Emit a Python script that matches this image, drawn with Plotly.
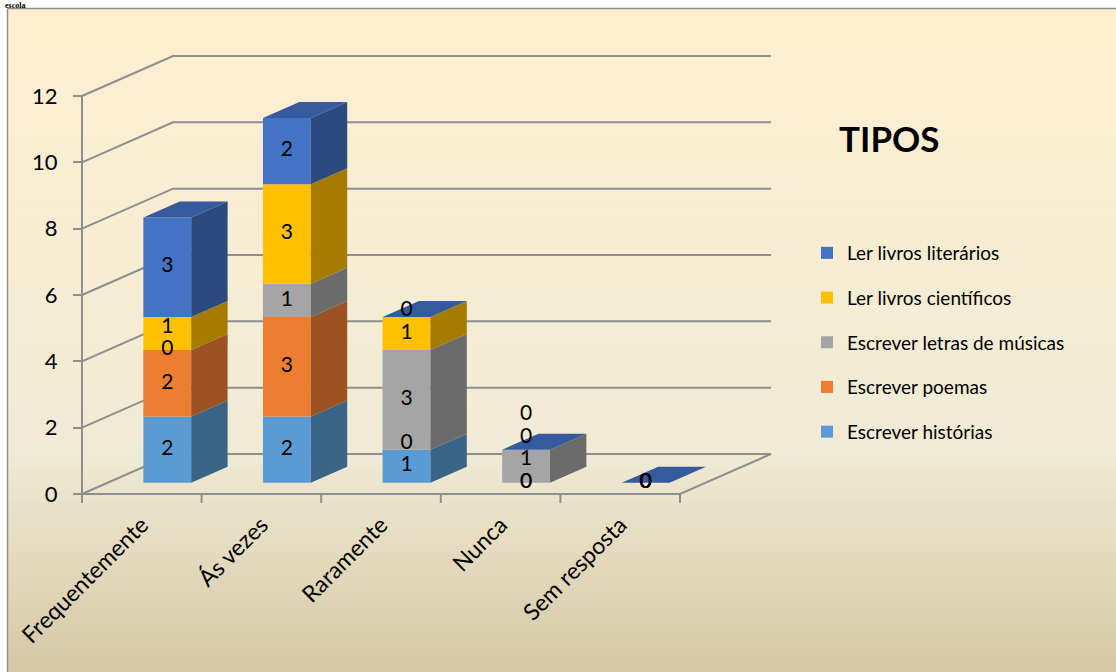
import plotly.graph_objects as go

# ---- data -------------------------------------------------------------
categories = ["Frequentemente", "Ás vezes", "Raramente", "Nunca", "Sem resposta"]
series_names = [
    "Escrever histórias",
    "Escrever poemas",
    "Escrever letras de músicas",
    "Ler livros científicos",
    "Ler livros literários",
]
escrever_historias = [2, 2, 1, 0, 0]
escrever_poemas = [2, 3, 0, 0, 0]
escrever_letras = [0, 1, 3, 1, 0]
ler_cientificos = [1, 3, 1, 0, 0]
ler_literarios = [3, 2, 0, 0, 0]
y_ticks = [0, 2, 4, 6, 8, 10, 12]
legend_title = "TIPOS"

series_values = [escrever_historias, escrever_poemas, escrever_letras,
                 ler_cientificos, ler_literarios]

# ---- style ------------------------------------------------------------
front_colors = ["#5B9BD5", "#ED7D31", "#A5A5A5", "#FFC000", "#4472C4"]
side_colors = ["#3A6589", "#9C5223", "#6B6B6B", "#A67C00", "#2C4A7E"]
top_color = "#355A9E"
grid_color = "#8E8E8E"
FONT = "Lato"

W_FIG, H_FIG = 1116, 672
M_L, M_R, M_T, M_B = 60, 316, 40, 166
PX_X = 119.6      # pixels per category
PX_Y = 33.17      # pixels per value unit
X0_PX = 82        # front-left corner of the floor
Y0_PX = 494       # front baseline

plot_w = W_FIG - M_L - M_R
plot_h = H_FIG - M_T - M_B
x_min = -0.5 - (X0_PX - M_L) / PX_X
x_max = x_min + plot_w / PX_X
y_min = -((H_FIG - M_B) - Y0_PX) / PX_Y
y_max = y_min + plot_h / PX_Y

# oblique projection of the depth axis
WALL_DX = 91 / PX_X
WALL_DY = 40 / PX_Y
F0, F1 = 0.28, 0.68          # bar depth span (fraction of floor depth)
BAR_W = 0.40
off_x, off_y = F0 * WALL_DX, F0 * WALL_DY
dep_x, dep_y = (F1 - F0) * WALL_DX, (F1 - F0) * WALL_DY
n_cat = len(categories)
x_right = n_cat - 0.5


def px_to_paper(px, py):
    return (px - M_L) / plot_w, ((H_FIG - M_B) - py) / plot_h


fig = go.Figure()
shapes = []

# ---- background gradient (chart area) ---------------------------------
def lerp(c1, c2, t):
    a = [int(c1[i:i + 2], 16) for i in (1, 3, 5)]
    b = [int(c2[i:i + 2], 16) for i in (1, 3, 5)]
    return "#%02X%02X%02X" % tuple(round(a[k] + (b[k] - a[k]) * t) for k in range(3))


stops = [(0.0, "#FFEFD1"), (0.64, "#F0EBD5"), (1.0, "#D1C39F")]
top_px, bot_px, n_strips = 8.5, 700, 90
for s in range(n_strips):
    t = (s + 0.5) / n_strips
    for (p0, c0), (p1, c1) in zip(stops[:-1], stops[1:]):
        if p0 <= t <= p1:
            col = lerp(c0, c1, (t - p0) / (p1 - p0))
            break
    ya = top_px + (bot_px - top_px) * s / n_strips
    yb = top_px + (bot_px - top_px) * (s + 1) / n_strips + 0.6
    xa, ya_p = px_to_paper(7.5, ya)
    xb, yb_p = px_to_paper(W_FIG + 2, yb)
    shapes.append(dict(type="rect", xref="paper", yref="paper", layer="below",
                       x0=xa, x1=xb, y0=yb_p, y1=ya_p,
                       fillcolor=col, line=dict(width=0)))

# chart border (left and top edges)
bx, by = px_to_paper(7.5, 8.5)
_, by_bottom = px_to_paper(7.5, H_FIG + 2)
bx_right, _ = px_to_paper(W_FIG + 2, 8.5)
shapes.append(dict(type="line", xref="paper", yref="paper", layer="below",
                   x0=bx, x1=bx, y0=by_bottom, y1=by,
                   line=dict(color="#8F8F8F", width=1.5)))
shapes.append(dict(type="line", xref="paper", yref="paper", layer="below",
                   x0=bx, x1=bx_right, y0=by, y1=by,
                   line=dict(color="#8F8F8F", width=1.5)))

# ---- walls, floor and gridlines ---------------------------------------
for v in y_ticks:
    shapes.append(dict(type="path", layer="below", xref="x", yref="y",
                       path=f"M{-0.5},{v} L{-0.5 + WALL_DX},{v + WALL_DY} "
                            f"L{x_right + WALL_DX},{v + WALL_DY}",
                       line=dict(color=grid_color, width=2)))
# floor front edge and right edge
shapes.append(dict(type="path", layer="below", xref="x", yref="y",
                   path=f"M{-0.5},0 L{x_right},0 L{x_right + WALL_DX},{WALL_DY}",
                   line=dict(color=grid_color, width=2)))
# front vertical axis line
shapes.append(dict(type="line", layer="below", xref="x", yref="y",
                   x0=-0.5, x1=-0.5, y0=0, y1=max(y_ticks),
                   line=dict(color=grid_color, width=2)))
# category boundary ticks
for k in range(n_cat + 1):
    b = k - 0.5
    shapes.append(dict(type="line", layer="below", xref="x", yref="y",
                       x0=b, x1=b, y0=0, y1=-9 / PX_Y,
                       line=dict(color=grid_color, width=2)))

# ---- bars: front faces (bars) + side faces + top faces -----------------
totals = [sum(s[i] for s in series_values) for i in range(n_cat)]
cum = [0.0] * n_cat
bases_per_series = []
n_series = len(series_values)
for si, vals in enumerate(series_values):
    bases = list(cum)
    bases_per_series.append(bases)
    fig.add_trace(go.Bar(
        x=[i + off_x for i in range(n_cat)],
        y=vals,
        base=[b + off_y for b in bases],
        width=BAR_W,
        name=series_names[si],
        legendgroup=series_names[si],
        legendrank=n_series - si,
        marker=dict(color=front_colors[si], line=dict(width=0)),
        hoverinfo="skip",
    ))
    # side faces
    for i in range(n_cat):
        v = vals[i]
        if v <= 0:
            continue
        x1 = i + off_x + BAR_W / 2
        b0 = bases[i] + off_y
        fig.add_trace(go.Scatter(
            x=[x1, x1 + dep_x, x1 + dep_x, x1, x1],
            y=[b0, b0 + dep_y, b0 + v + dep_y, b0 + v, b0],
            mode="lines", fill="toself", fillcolor=side_colors[si],
            line=dict(width=0, color=side_colors[si]),
            showlegend=False, hoverinfo="skip"))
    cum = [cum[i] + vals[i] for i in range(n_cat)]

# top face of each stack
for i in range(n_cat):
    x0 = i + off_x - BAR_W / 2
    x1 = i + off_x + BAR_W / 2
    t = totals[i] + off_y
    fig.add_trace(go.Scatter(
        x=[x0, x1, x1 + dep_x, x0 + dep_x, x0],
        y=[t, t, t + dep_y, t + dep_y, t],
        mode="lines", fill="toself", fillcolor=top_color,
        line=dict(width=0, color=top_color),
        showlegend=False, hoverinfo="skip"))

# ---- value labels ---------------------------------------------------------
LABEL_SEP = 0.68
lab_x, lab_y, lab_t = [], [], []
for i in range(n_cat):
    items = []
    for si, vals in enumerate(series_values):
        v = vals[i]
        b = bases_per_series[si][i]
        items.append([b + v / 2.0 if v > 0 else b, v, b])
    # spread overlapping labels upwards (coincident zeros at the floor stay put)
    for k in range(1, len(items)):
        prev, cur = items[k - 1], items[k]
        if cur[1] == 0 and prev[1] == 0 and cur[2] == 0 and prev[2] == 0:
            continue
        if cur[0] - prev[0] < LABEL_SEP:
            cur[0] = prev[0] + LABEL_SEP
    for pos, v, _ in items:
        lab_x.append(i + off_x)
        lab_y.append(pos + off_y)
        lab_t.append(str(v))

fig.add_trace(go.Scatter(
    x=lab_x, y=lab_y, text=lab_t, mode="text",
    textfont=dict(family=FONT, size=21, color="black"),
    textposition="middle center", showlegend=False, hoverinfo="skip",
    cliponaxis=False))

# ---- layout -------------------------------------------------------------
yaxis_pos, _ = px_to_paper(X0_PX, 0)
tx, ty = px_to_paper(889, 138)
ex, ey = px_to_paper(4, 0.5)
lx, ly = px_to_paper(807, 234)

fig.update_layout(
    width=W_FIG, height=H_FIG,
    margin=dict(l=M_L, r=M_R, t=M_T, b=M_B),
    paper_bgcolor="white",
    plot_bgcolor="rgba(0,0,0,0)",
    barmode="overlay",
    font=dict(family=FONT, color="black"),
    shapes=shapes,
    xaxis=dict(
        range=[x_min, x_max], showgrid=False, zeroline=False, showline=False,
        tickmode="array", tickvals=list(range(n_cat)), ticktext=categories,
        tickangle=-45, ticks="", tickfont=dict(family=FONT, size=23, color="black"),
        fixedrange=True,
    ),
    yaxis=dict(
        range=[y_min, y_max], showgrid=False, zeroline=False, showline=False,
        anchor="free", position=yaxis_pos,
        tickmode="array", tickvals=y_ticks, ticks="outside", ticklen=9,
        tickwidth=2, tickcolor=grid_color, ticklabelstandoff=11,
        tickfont=dict(family=FONT, size=22, color="black"),
        fixedrange=True,
    ),
    legend=dict(
        x=lx, y=ly, xanchor="left", yanchor="top",
        traceorder="grouped", tracegroupgap=17,
        bgcolor="rgba(0,0,0,0)", borderwidth=0,
        font=dict(family=FONT, size=19, color="black"),
        itemclick=False, itemdoubleclick=False,
    ),
    annotations=[
        dict(text=legend_title, x=tx, y=ty, xref="paper", yref="paper",
             showarrow=False, xanchor="center", yanchor="middle",
             font=dict(family=FONT, size=35, color="black", weight="bold")),
        dict(text="escola", x=ex, y=ey, xref="paper", yref="paper",
             showarrow=False, xanchor="left", yanchor="top", borderpad=0,
             font=dict(family="Liberation Serif", size=8, color="black",
                       weight="bold")),
    ],
)

fig.write_html("out.html")
